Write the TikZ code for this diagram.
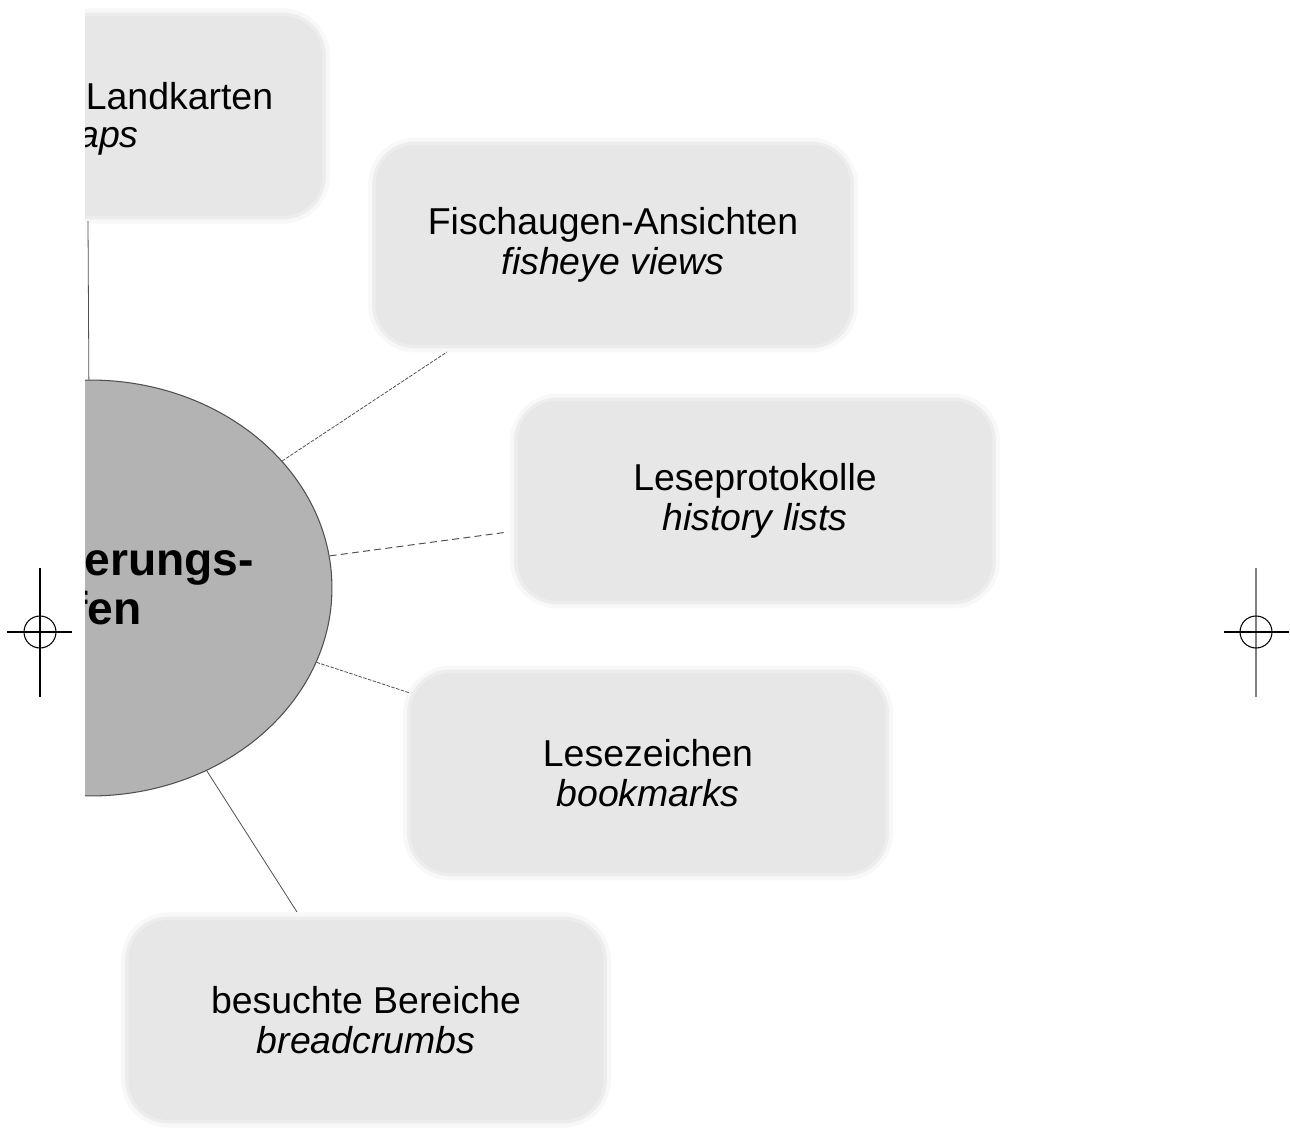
\documentclass[tikz,border=0pt]{standalone}
\usepackage{fontspec}
\setmainfont{Liberation Sans}
\usetikzlibrary{shapes.geometric}
\definecolor{boxc}{RGB}{231,231,231}
\definecolor{ellc}{RGB}{179,179,179}
\definecolor{linec}{RGB}{80,80,80}
\begin{document}
\begin{tikzpicture}[x=0.02cm,y=-0.02cm,
  boxnode/.style={rounded corners=0.8cm, fill=boxc, draw=boxc, line width=0.14cm,
    draw opacity=0.6, preaction={draw=boxc, line width=0.3cm, draw opacity=0.25},
    minimum width=9.5cm, minimum height=4.0cm, inner sep=0pt, align=center,
    font=\fontsize{21.3pt}{22.8pt}\selectfont},
  txt/.style={inner sep=0pt, anchor=base west, font=\fontsize{21.3pt}{22.8pt}\selectfont},
  hubtxt/.style={inner sep=0pt, anchor=base west, font=\bfseries\fontsize{26.3pt}{30pt}\selectfont},
  conn/.style={draw=linec, line width=0.45pt},
  fine/.style={conn, dash pattern=on 2pt off 0.8pt},
  dash6/.style={conn, line width=0.55pt, dash pattern=on 4pt off 2.4pt},
  regm/.style={draw=black, line width=0.6pt}]
% page
\fill[white] (0,0) rectangle (1290,1131);
\useasboundingbox (0,0) rectangle (1290,1131);
% registration marks
\draw[regm] (40,568) -- (40,697);
\draw[regm] (7,632) -- (72,632);
\draw[regm] (40,632) circle[radius=0.32cm];
\draw[regm, draw=gray] (1256,568) -- (1256,697);
\draw[regm] (1224,632) -- (1289,632);
\draw[regm] (1256,632) circle[radius=0.32cm];
\begin{scope}
\clip (85,0) rectangle (1010,1131);
% boxes
\node[boxnode] (maps) at (85,116) {};
\node[txt] (mapsA) at (85.5,110) {Landkarten};
\node[txt] (mapsB) at (78,148) {\itshape aps};
\node[boxnode] (fish) at (613,245) {Fischaugen-Ansichten\\\textit{fisheye views}};
\node[boxnode] (hist) at (755,501) {Leseprotokolle\\\textit{history lists}};
\node[boxnode] (book) at (648,773) {Lesezeichen\\\textit{bookmarks}};
\node[boxnode] (crumb) at (366,1020) {besuchte Bereiche\\\textit{breadcrumbs}};
% hub
\node[ellipse, fill=ellc, draw=linec, line width=0.6pt, minimum width=9.68cm,
  minimum height=8.32cm, inner sep=0pt] (hub) at (90,588) {};
\node[hubtxt] (hubA) at (84,575) {erungs-};
\node[hubtxt] (hubB) at (72,624) {fen};
% connector ends
\coordinate (pmaps) at (88,221);
\coordinate (pfish) at (447,352);
\coordinate (phist) at (508,532);
\coordinate (pbook) at (410,693);
\coordinate (pcrumb) at (297,912);
\draw[conn] (hub) -- (pmaps);
\draw[fine] (hub) -- (pfish);
\draw[dash6] (hub) -- (phist);
\draw[fine] (hub) -- (pbook);
\draw[conn] (hub) -- (pcrumb);
\end{scope}
\end{tikzpicture}
\end{document}
